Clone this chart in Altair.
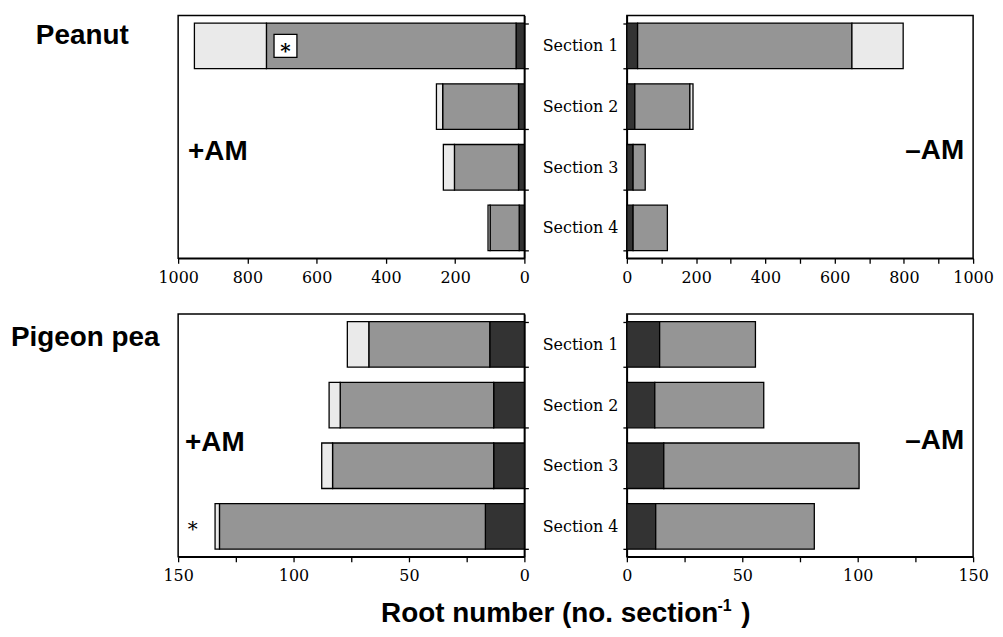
import altair as alt
import pandas as pd

# ---------------- data ----------------
sections = ["Section 1", "Section 2", "Section 3", "Section 4"]
segments = ["Dark", "Hatched", "Dotted"]
segment_fills = ["#333333", "#959595", "#eaeaea"]

# Peanut, +AM
peanut_plus_dark = [24, 17, 17, 15]
peanut_plus_hatched = [721, 219, 185, 84]
peanut_plus_dotted = [208, 18, 32, 6]
# Peanut, -AM
peanut_minus_dark = [31, 23, 18, 18]
peanut_minus_hatched = [619, 159, 35, 99]
peanut_minus_dotted = [148, 9, 0, 0]
# Pigeon pea, +AM
pigeon_plus_dark = [15.0, 13.3, 13.3, 16.9]
pigeon_plus_hatched = [52.4, 66.5, 69.8, 115.2]
pigeon_plus_dotted = [9.3, 4.8, 4.7, 1.9]
# Pigeon pea, -AM
pigeon_minus_dark = [14.2, 12.1, 16.0, 12.5]
pigeon_minus_hatched = [41.5, 47.2, 84.6, 68.7]
pigeon_minus_dotted = [0, 0, 0, 0]

peanut_ticks = list(range(0, 1001, 100))
pigeon_ticks = list(range(0, 151, 25))

# significance markers (data position)
star_peanut = {"section": "Section 1", "value": 690}
star_pigeon = {"section": "Section 4", "value": 143.7}

W, H = 348, 244
LABEL_FONT = "Liberation Sans"
SERIF = "DejaVu Serif"


def long_df(dark, hatched, dotted):
    rows = []
    for i, s in enumerate(sections):
        for k, vals in enumerate([dark, hatched, dotted]):
            if vals[i] > 0:
                rows.append({"section": s, "segment": segments[k],
                             "order": k, "value": vals[i]})
    return pd.DataFrame(rows)


def bold_text(text, x, y, align="left", size=28, baseline="middle"):
    return alt.Chart(pd.DataFrame({"t": [text]})).mark_text(
        font=LABEL_FONT, fontWeight="bold", fontSize=size, align=align,
        baseline=baseline, color="black"
    ).encode(x=alt.value(x), y=alt.value(y), text="t:N")


def panel(df, dmax, ticks, major, reverse, yorient, extras):
    xscale = alt.Scale(domain=[0, dmax], reverse=reverse, nice=False, zero=True)
    yscale = alt.Scale(domain=sections, paddingInner=0.25, paddingOuter=0.125)
    x_axis = alt.Axis(values=ticks, title=None, format="d",
                      labelExpr=f"datum.value % {major} === 0 ? datum.label : ''",
                      labelFlush=False, labelOverlap=False, tickSize=5,
                      labelPadding=6)
    y_axis = alt.Axis(orient=yorient, labels=(yorient == "left"), title=None,
                      tickBand="extent", tickSize=4, labelPadding=5)
    bars = alt.Chart(df).mark_bar(stroke="black", strokeWidth=1.3).encode(
        y=alt.Y("section:N", sort=sections, scale=yscale, axis=y_axis),
        x=alt.X("value:Q", stack="zero", scale=xscale, axis=x_axis),
        fill=alt.Fill("segment:N", scale=alt.Scale(domain=segments, range=segment_fills),
                      legend=None),
        order=alt.Order("order:Q", sort="ascending"),
    )
    return alt.layer(bars, *extras).properties(width=W, height=H)


# top-left extras: boxed asterisk, labels
star1_df = pd.DataFrame([star_peanut])
box = alt.Chart(star1_df).mark_square(size=529, fill="white", stroke="black",
                                      strokeWidth=1.3, opacity=1).encode(
    x="value:Q", y=alt.Y("section:N", sort=sections))
star1 = alt.Chart(star1_df.assign(t="*")).mark_text(
    font=SERIF, fontSize=20, fontWeight="bold", baseline="middle", dy=6, color="black"
).encode(x="value:Q", y=alt.Y("section:N", sort=sections), text="t:N")

star2_df = pd.DataFrame([star_pigeon]).assign(t="*")
star2 = alt.Chart(star2_df).mark_text(
    font=SERIF, fontSize=20, baseline="middle", dy=4, color="black"
).encode(x="value:Q", y=alt.Y("section:N", sort=sections), text="t:N")

tl = panel(long_df(peanut_plus_dark, peanut_plus_hatched, peanut_plus_dotted),
           1000, peanut_ticks, 200, True, "right",
           [box, star1, bold_text("Peanut", -143, 21), bold_text("+AM", 10, 137)])

tr = panel(long_df(peanut_minus_dark, peanut_minus_hatched, peanut_minus_dotted),
           1000, peanut_ticks, 200, False, "left",
           [bold_text("\u2013AM", 339, 136, align="right")])

bl = panel(long_df(pigeon_plus_dark, pigeon_plus_hatched, pigeon_plus_dotted),
           150, pigeon_ticks, 50, True, "right",
           [star2, bold_text("Pigeon pea", -168, 24), bold_text("+AM", 7, 130),
            bold_text("Root number (no.  section", 204, 310, baseline="alphabetic"),
            bold_text("-1", 542, 298, size=16, baseline="alphabetic"),
            bold_text(")", 566, 310, baseline="alphabetic")])

br = panel(long_df(pigeon_minus_dark, pigeon_minus_hatched, pigeon_minus_dotted),
           150, pigeon_ticks, 50, False, "left",
           [bold_text("\u2013AM", 339, 128, align="right")])

chart = alt.concat(
    tl, tr, bl, br, columns=2, spacing={"row": 56, "column": 103}, bounds="flush"
).properties(
    padding={"left": 2, "top": -3, "right": 0, "bottom": -1}
).configure_view(
    stroke="black", strokeWidth=1.5
).configure_axis(
    labelFont=SERIF, labelFontSize=16, labelColor="black",
    domainColor="black", domainWidth=1.5, tickColor="black", tickWidth=1.3,
    grid=False
)

chart.save("out.html", embed_options={"renderer": "svg", "actions": False})
